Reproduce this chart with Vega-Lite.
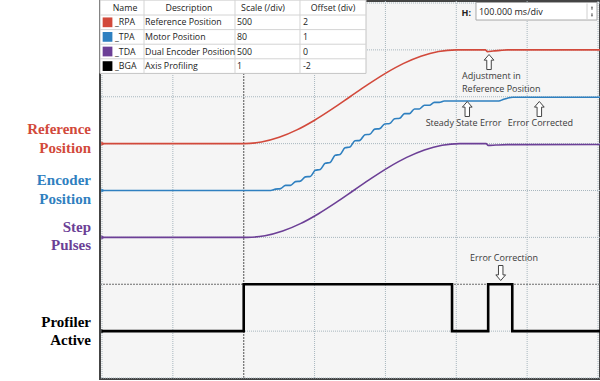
{
  "$schema": "https://vega.github.io/schema/vega-lite/v6.json",
  "width": 500,
  "height": 378,
  "autosize": {"type": "none"},
  "padding": {"left": 100, "top": 1, "right": 0, "bottom": 2},
  "background": "#ffffff",
  "config": {"view": {"fill": "#f5f5f5", "stroke": "#444444", "strokeWidth": 2}},
  "datasets": {
    "gx": [{"g": 0}, {"g": 100}, {"g": 300}, {"g": 400}, {"g": 500}, {"g": 600}, {"g": 700}],
    "gxd": [{"g": 200}],
    "gy": [{"g": -4}, {"g": -3}, {"g": -1}, {"g": 0}, {"g": 1}, {"g": 2}, {"g": 3}, {"g": 4}],
    "gyd": [{"g": -2}],
    "traces": [
      {"s": "RPA", "t": 0, "v": 1.0}, {"s": "RPA", "t": 200, "v": 1.0}, {"s": "RPA", "t": 225, "v": 1.034},
      {"s": "RPA", "t": 250, "v": 1.134}, {"s": "RPA", "t": 275, "v": 1.293}, {"s": "RPA", "t": 300, "v": 1.5},
      {"s": "RPA", "t": 325, "v": 1.741}, {"s": "RPA", "t": 350, "v": 2.0}, {"s": "RPA", "t": 375, "v": 2.259},
      {"s": "RPA", "t": 400, "v": 2.5}, {"s": "RPA", "t": 425, "v": 2.707}, {"s": "RPA", "t": 450, "v": 2.866},
      {"s": "RPA", "t": 475, "v": 2.966}, {"s": "RPA", "t": 500, "v": 3.0}, {"s": "RPA", "t": 541, "v": 3.0},
      {"s": "RPA", "t": 544, "v": 2.962}, {"s": "RPA", "t": 552, "v": 2.975}, {"s": "RPA", "t": 562, "v": 2.99},
      {"s": "RPA", "t": 572, "v": 3.0}, {"s": "RPA", "t": 703, "v": 3.0},

      {"s": "TDA", "t": 0, "v": -1.0}, {"s": "TDA", "t": 205, "v": -1.0}, {"s": "TDA", "t": 230, "v": -0.966},
      {"s": "TDA", "t": 255, "v": -0.866}, {"s": "TDA", "t": 280, "v": -0.707}, {"s": "TDA", "t": 305, "v": -0.5},
      {"s": "TDA", "t": 330, "v": -0.259}, {"s": "TDA", "t": 355, "v": 0.0}, {"s": "TDA", "t": 380, "v": 0.259},
      {"s": "TDA", "t": 405, "v": 0.5}, {"s": "TDA", "t": 430, "v": 0.707}, {"s": "TDA", "t": 455, "v": 0.866},
      {"s": "TDA", "t": 480, "v": 0.966}, {"s": "TDA", "t": 505, "v": 1.0}, {"s": "TDA", "t": 542, "v": 1.0},
      {"s": "TDA", "t": 545, "v": 0.962}, {"s": "TDA", "t": 556, "v": 0.97}, {"s": "TDA", "t": 572, "v": 0.978},
      {"s": "TDA", "t": 703, "v": 0.98},

      {"s": "TPA", "t": 0, "v": 0.0}, {"s": "TPA", "t": 238, "v": 0.0}, {"s": "TPA", "t": 245, "v": 0.03},
      {"s": "TPA", "t": 252, "v": 0.04}, {"s": "TPA", "t": 259, "v": 0.11}, {"s": "TPA", "t": 266, "v": 0.11},
      {"s": "TPA", "t": 273, "v": 0.19}, {"s": "TPA", "t": 280, "v": 0.2}, {"s": "TPA", "t": 287, "v": 0.29},
      {"s": "TPA", "t": 294, "v": 0.3}, {"s": "TPA", "t": 301, "v": 0.43}, {"s": "TPA", "t": 308, "v": 0.45},
      {"s": "TPA", "t": 315, "v": 0.58}, {"s": "TPA", "t": 322, "v": 0.6}, {"s": "TPA", "t": 329, "v": 0.75},
      {"s": "TPA", "t": 336, "v": 0.77}, {"s": "TPA", "t": 343, "v": 0.91}, {"s": "TPA", "t": 350, "v": 0.93},
      {"s": "TPA", "t": 357, "v": 1.06}, {"s": "TPA", "t": 364, "v": 1.07}, {"s": "TPA", "t": 371, "v": 1.19},
      {"s": "TPA", "t": 378, "v": 1.2}, {"s": "TPA", "t": 385, "v": 1.31}, {"s": "TPA", "t": 392, "v": 1.32},
      {"s": "TPA", "t": 399, "v": 1.42}, {"s": "TPA", "t": 406, "v": 1.43}, {"s": "TPA", "t": 413, "v": 1.53},
      {"s": "TPA", "t": 420, "v": 1.54}, {"s": "TPA", "t": 427, "v": 1.64}, {"s": "TPA", "t": 434, "v": 1.64},
      {"s": "TPA", "t": 441, "v": 1.74}, {"s": "TPA", "t": 448, "v": 1.74}, {"s": "TPA", "t": 455, "v": 1.82},
      {"s": "TPA", "t": 462, "v": 1.82}, {"s": "TPA", "t": 469, "v": 1.88}, {"s": "TPA", "t": 476, "v": 1.88},
      {"s": "TPA", "t": 483, "v": 1.91}, {"s": "TPA", "t": 490, "v": 1.91}, {"s": "TPA", "t": 560, "v": 1.91},
      {"s": "TPA", "t": 566, "v": 1.94}, {"s": "TPA", "t": 573, "v": 1.975}, {"s": "TPA", "t": 580, "v": 1.99},
      {"s": "TPA", "t": 703, "v": 1.99}
    ],
    "profile": [
      {"s": "BGA", "t": 0, "v": -3}, {"s": "BGA", "t": 200, "v": -2}, {"s": "BGA", "t": 494, "v": -3},
      {"s": "BGA", "t": 545, "v": -2}, {"s": "BGA", "t": 579, "v": -3}, {"s": "BGA", "t": 703, "v": -3}
    ],
    "markers": [
      {"s": "RPA", "t": 1.5, "v": 1}, {"s": "TPA", "t": 1.5, "v": 0}, {"s": "TDA", "t": 1.5, "v": -1}, {"s": "BGA", "t": 1.5, "v": -3}
    ],
    "labels": [
      {"s": "RPA", "txt": "Reference", "t": -15.5, "v": 1.312}, {"s": "RPA", "txt": "Position", "t": -15.5, "v": 0.907},
      {"s": "TPA", "txt": "Encoder", "t": -15.5, "v": 0.224}, {"s": "TPA", "txt": "Position", "t": -15.5, "v": -0.181},
      {"s": "TDA", "txt": "Step", "t": -15.5, "v": -0.779}, {"s": "TDA", "txt": "Pulses", "t": -15.5, "v": -1.163},
      {"s": "BGA", "txt": "Profiler", "t": -15.5, "v": -2.805}, {"s": "BGA", "txt": "Active", "t": -15.5, "v": -3.189}
    ],
    "tableBox": [{"t1": -2.82, "t2": 372.6, "v1": 4.064, "v2": 2.498}],
    "tableH": [
      {"t1": -2.82, "t2": 372.6, "v": 3.744}, {"t1": -2.82, "t2": 372.6, "v": 3.4325},
      {"t1": -2.82, "t2": 372.6, "v": 3.121}, {"t1": -2.82, "t2": 372.6, "v": 2.81}
    ],
    "tableV": [
      {"t": 59.3, "v1": 4.064, "v2": 2.498}, {"t": 187.7, "v1": 4.064, "v2": 2.498}, {"t": 279.4, "v1": 4.064, "v2": 2.498}
    ],
    "tableHead": [
      {"txt": "Name", "t": 32.5, "v": 3.904}, {"txt": "Description", "t": 122.8, "v": 3.904},
      {"txt": "Scale (/div)", "t": 227.2, "v": 3.904}, {"txt": "Offset (div)", "t": 326.0, "v": 3.904}
    ],
    "tableBody": [
      {"txt": "_RPA", "t": 18.3, "v": 3.588}, {"txt": "Reference Position", "t": 60.7, "v": 3.588}, {"txt": "500", "t": 190.5, "v": 3.588}, {"txt": "2", "t": 283.7, "v": 3.588},
      {"txt": "_TPA", "t": 18.3, "v": 3.277}, {"txt": "Motor Position", "t": 60.7, "v": 3.277}, {"txt": "80", "t": 190.5, "v": 3.277}, {"txt": "1", "t": 283.7, "v": 3.277},
      {"txt": "_TDA", "t": 18.3, "v": 2.965}, {"txt": "Dual Encoder Position", "t": 60.7, "v": 2.965}, {"txt": "500", "t": 190.5, "v": 2.965}, {"txt": "0", "t": 283.7, "v": 2.965},
      {"txt": "_BGA", "t": 18.3, "v": 2.654}, {"txt": "Axis Profiling", "t": 60.7, "v": 2.654}, {"txt": "1", "t": 190.5, "v": 2.654}, {"txt": "-2", "t": 283.7, "v": 2.654}
    ],
    "swatches": [
      {"s": "RPA", "t": 7.8, "v": 3.588}, {"s": "TPA", "t": 7.8, "v": 3.277}, {"s": "TDA", "t": 7.8, "v": 2.965}, {"s": "BGA", "t": 7.8, "v": 2.654}
    ],
    "notes": [
      {"txt": "Adjustment in", "t": 508.1, "v": 2.443},
      {"txt": "Reference Position", "t": 508.1, "v": 2.165},
      {"txt": "Steady State Error", "t": 456.8, "v": 1.434},
      {"txt": "Error Corrected", "t": 572.6, "v": 1.434},
      {"txt": "Error Correction", "t": 519.4, "v": -1.447}
    ],
    "arrows": [
      {"dir": "up", "t": 546.2, "v": 2.741},
      {"dir": "up", "t": 515.5, "v": 1.739},
      {"dir": "up", "t": 617.2, "v": 1.739},
      {"dir": "down", "t": 562.7, "v": -1.76}
    ],
    "hbox": [{"t1": 527.8, "t2": 698.6, "v1": 4.011, "v2": 3.637}],
    "hsep": [{"t": 684.5, "v1": 3.99, "v2": 3.66}],
    "hlabel": [{"txt": "H:", "t": 520.8, "v": 3.787}],
    "hvalue": [{"txt": "100.000 ms/div", "t": 532, "v": 3.808}],
    "spin": [{"dir": "up", "t": 691.5, "v": 3.893}, {"dir": "down", "t": 691.5, "v": 3.744}]
  },
  "layer": [
    {"data": {"name": "gx"}, "mark": {"type": "rule", "color": "#a7b6be", "strokeWidth": 1, "strokeDash": [1, 1]},
     "encoding": {"x": {"field": "g", "type": "quantitative", "scale": {"domain": [-2.82, 702.82], "nice": false, "zero": false}, "axis": null}}},
    {"data": {"name": "gxd"}, "mark": {"type": "rule", "color": "#6e6e6e", "strokeWidth": 1.2, "strokeDash": [2, 1]},
     "encoding": {"x": {"field": "g", "type": "quantitative"}}},
    {"data": {"name": "gy"}, "mark": {"type": "rule", "color": "#a7b6be", "strokeWidth": 1, "strokeDash": [1, 1]},
     "encoding": {"y": {"field": "g", "type": "quantitative", "scale": {"domain": [-4.0213, 4.0427], "nice": false, "zero": false}, "axis": null}}},
    {"data": {"name": "gyd"}, "mark": {"type": "rule", "color": "#6e6e6e", "strokeWidth": 1.2, "strokeDash": [2, 1]},
     "encoding": {"y": {"field": "g", "type": "quantitative"}}},
    {"data": {"name": "traces"}, "mark": {"type": "line", "interpolate": "monotone", "strokeWidth": 1.6},
     "encoding": {
       "x": {"field": "t", "type": "quantitative"},
       "y": {"field": "v", "type": "quantitative"},
       "color": {"field": "s", "type": "nominal", "legend": null,
                 "scale": {"domain": ["RPA", "TPA", "TDA", "BGA"], "range": ["#d2493b", "#2f80c0", "#6c3f96", "#000000"]}}}},
    {"data": {"name": "profile"}, "mark": {"type": "line", "interpolate": "step-after", "strokeWidth": 2.6, "color": "#000000"},
     "encoding": {"x": {"field": "t", "type": "quantitative"}, "y": {"field": "v", "type": "quantitative"}}},
    {"data": {"name": "markers"}, "mark": {"type": "point", "shape": "triangle-right", "filled": true, "size": 18, "opacity": 1},
     "encoding": {"x": {"field": "t", "type": "quantitative"}, "y": {"field": "v", "type": "quantitative"}, "color": {"field": "s", "type": "nominal"}}},
    {"data": {"name": "labels"}, "mark": {"type": "text", "align": "right", "baseline": "middle", "font": "Liberation Serif", "fontWeight": "bold", "fontSize": 15},
     "encoding": {"x": {"field": "t", "type": "quantitative"}, "y": {"field": "v", "type": "quantitative"}, "text": {"field": "txt"}, "color": {"field": "s", "type": "nominal"}}},
    {"data": {"name": "tableBox"}, "mark": {"type": "rect", "fill": "#ffffff", "stroke": "#c4c4c4", "strokeWidth": 1},
     "encoding": {"x": {"field": "t1", "type": "quantitative"}, "x2": {"field": "t2"}, "y": {"field": "v1", "type": "quantitative"}, "y2": {"field": "v2"}}},
    {"data": {"name": "tableH"}, "mark": {"type": "rule", "color": "#d4d4d4", "strokeWidth": 1},
     "encoding": {"x": {"field": "t1", "type": "quantitative"}, "x2": {"field": "t2"}, "y": {"field": "v", "type": "quantitative"}}},
    {"data": {"name": "tableV"}, "mark": {"type": "rule", "color": "#d4d4d4", "strokeWidth": 1},
     "encoding": {"x": {"field": "t", "type": "quantitative"}, "y": {"field": "v1", "type": "quantitative"}, "y2": {"field": "v2"}}},
    {"data": {"name": "tableHead"}, "mark": {"type": "text", "align": "center", "baseline": "middle", "font": "Open Sans", "fontSize": 8.8, "color": "#222222"},
     "encoding": {"x": {"field": "t", "type": "quantitative"}, "y": {"field": "v", "type": "quantitative"}, "text": {"field": "txt"}}},
    {"data": {"name": "tableBody"}, "mark": {"type": "text", "align": "left", "baseline": "middle", "font": "Open Sans", "fontSize": 8.8, "color": "#222222"},
     "encoding": {"x": {"field": "t", "type": "quantitative"}, "y": {"field": "v", "type": "quantitative"}, "text": {"field": "txt"}}},
    {"data": {"name": "swatches"}, "mark": {"type": "square", "size": 95, "opacity": 1},
     "encoding": {"x": {"field": "t", "type": "quantitative"}, "y": {"field": "v", "type": "quantitative"}, "color": {"field": "s", "type": "nominal"}}},
    {"data": {"name": "notes"}, "mark": {"type": "text", "align": "left", "baseline": "middle", "font": "Open Sans", "fontSize": 9, "color": "#3a3a3a"},
     "encoding": {"x": {"field": "t", "type": "quantitative"}, "y": {"field": "v", "type": "quantitative"}, "text": {"field": "txt"}}},
    {"data": {"name": "arrows"}, "mark": {"type": "point", "filled": false, "fill": "#ffffff", "fillOpacity": 1, "stroke": "#444444", "strokeWidth": 1, "size": 225, "opacity": 1},
     "encoding": {"x": {"field": "t", "type": "quantitative"}, "y": {"field": "v", "type": "quantitative"},
       "shape": {"field": "dir", "type": "nominal", "legend": null,
                 "scale": {"domain": ["up", "down"], "range": ["M0,-1L0.65,-0.25L0.3,-0.25L0.3,1L-0.3,1L-0.3,-0.25L-0.65,-0.25Z", "M0,1L0.65,0.25L0.3,0.25L0.3,-1L-0.3,-1L-0.3,0.25L-0.65,0.25Z"]}}}},
    {"data": {"name": "hbox"}, "mark": {"type": "rect", "fill": "#ffffff", "stroke": "#a8a8a8", "strokeWidth": 1},
     "encoding": {"x": {"field": "t1", "type": "quantitative"}, "x2": {"field": "t2"}, "y": {"field": "v1", "type": "quantitative"}, "y2": {"field": "v2"}}},
    {"data": {"name": "hsep"}, "mark": {"type": "rule", "color": "#d0d0d0", "strokeWidth": 1},
     "encoding": {"x": {"field": "t", "type": "quantitative"}, "y": {"field": "v1", "type": "quantitative"}, "y2": {"field": "v2"}}},
    {"data": {"name": "hlabel"}, "mark": {"type": "text", "align": "right", "baseline": "middle", "font": "Open Sans", "fontWeight": "bold", "fontSize": 9, "color": "#222222"},
     "encoding": {"x": {"field": "t", "type": "quantitative"}, "y": {"field": "v", "type": "quantitative"}, "text": {"field": "txt"}}},
    {"data": {"name": "hvalue"}, "mark": {"type": "text", "align": "left", "baseline": "middle", "font": "Open Sans", "fontSize": 9, "color": "#222222"},
     "encoding": {"x": {"field": "t", "type": "quantitative"}, "y": {"field": "v", "type": "quantitative"}, "text": {"field": "txt"}}},
    {"data": {"name": "spin"}, "mark": {"type": "point", "filled": true, "size": 12, "color": "#555555", "opacity": 1},
     "encoding": {"x": {"field": "t", "type": "quantitative"}, "y": {"field": "v", "type": "quantitative"},
       "shape": {"field": "dir", "type": "nominal", "legend": null, "scale": {"domain": ["up", "down"], "range": ["triangle-up", "triangle-down"]}}}}
  ]
}
